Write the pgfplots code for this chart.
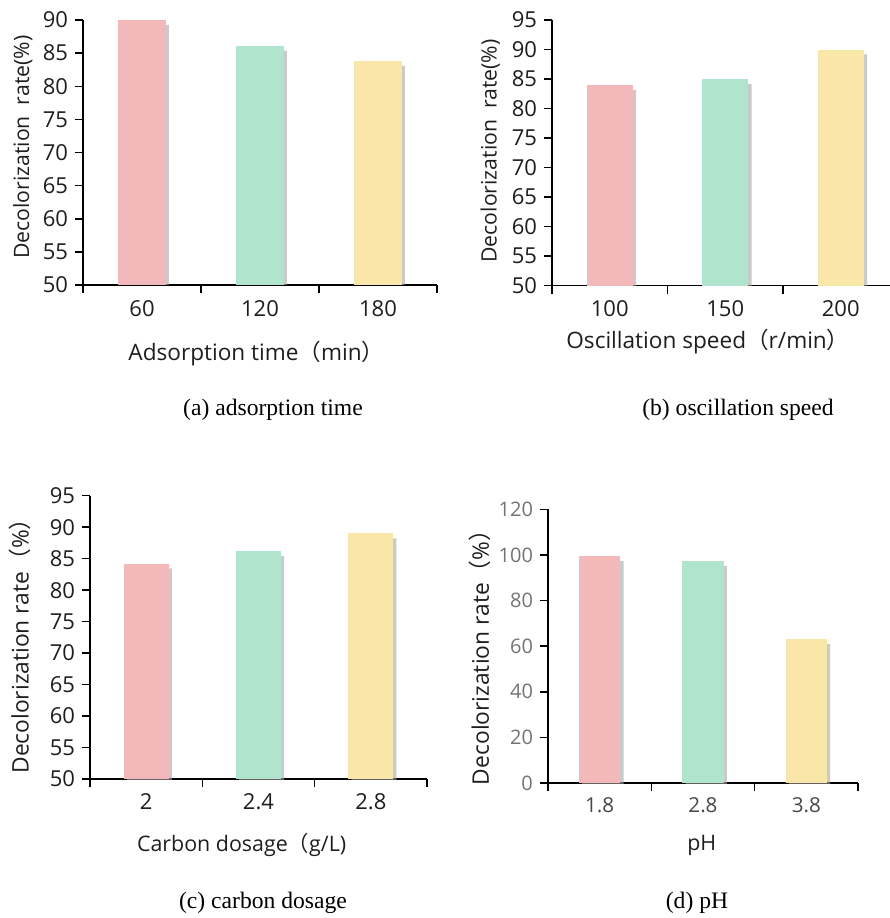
\documentclass[border=0pt]{standalone}
\usepackage{fontspec}
\setmainfont{Open Sans}
\newfontfamily\cjk{Noto Sans CJK SC}
\newfontfamily\capfont{Liberation Serif}
\usepackage{pgfplots}
\pgfplotsset{compat=1.18}

\definecolor{barpink}{RGB}{242,184,186}
\definecolor{bargreen}{RGB}{176,228,205}
\definecolor{baryellow}{RGB}{248,231,168}
\definecolor{txt}{RGB}{30,30,30}

\newcommand\fw[1]{{\cjk #1}}

\pgfplotsset{
  panel/.style={
    scale only axis, axis lines*=left,
    axis line style={line width=0.75pt, black},
    ybar, bar width=0.4, xmin=0.5, xmax=3.5,
    xtick={0.5,1.5,2.5,3.5}, x tick label as interval,
    tick align=outside, major tick length=4pt,
    tick style={line width=0.75pt, black},
    /pgf/number format/assume math mode=true,
    tick label style={font=\fontsize{11}{12}\selectfont, text=txt},
    ylabel style={font=\fontsize{10.6}{12}\selectfont, text=txt},
    xlabel style={font=\fontsize{11.3}{13}\selectfont, text=txt},
    every axis plot/.append style={bar shift=0pt, draw=none},
  },
  shadow/.style={fill=black!35, opacity=0.6, xshift=1.6pt, yshift=-2.4pt},
}

\begin{document}
\begin{tikzpicture}
\useasboundingbox (0,0) rectangle (445pt,459pt);

% (a) adsorption time
\begin{axis}[panel, at={(41.5pt,316.5pt)}, anchor=south west,
  width=177pt, height=132.5pt, ymin=50, ymax=90, ytick distance=5,
  xticklabels={60,120,180},
  xlabel={Adsorption time\fw{（}min\fw{）}},
  xlabel style={at={(axis description cs:0.49,0)}, anchor=center, yshift=-34.5pt},
  ylabel={Decolorization\ \ rate(\%)},
  ylabel style={at={(axis description cs:-0.17,0.52)}, anchor=center}]
\addplot[shadow] coordinates {(1,90.0)(2,86.1)(3,83.8)};
\addplot[fill=barpink] coordinates {(1,90.0)};
\addplot[fill=bargreen] coordinates {(2,86.1)};
\addplot[fill=baryellow] coordinates {(3,83.8)};
\end{axis}

% (b) oscillation speed
\begin{axis}[panel, at={(276pt,316.15pt)}, anchor=south west,
  width=173.25pt, height=132.85pt, ymin=50, ymax=95, ytick distance=5,
  xticklabels={100,150,200},
  xlabel={Oscillation speed\fw{（}r/min\fw{）}},
  xlabel style={at={(axis description cs:0.45,0)}, anchor=center, yshift=-28pt},
  ylabel={Decolorization\ \ rate(\%)},
  ylabel style={at={(axis description cs:-0.178,0.507)}, anchor=center}]
\addplot[shadow] coordinates {(1,84.0)(2,85.0)(3,90.0)};
\addplot[fill=barpink] coordinates {(1,84.0)};
\addplot[fill=bargreen] coordinates {(2,85.0)};
\addplot[fill=baryellow] coordinates {(3,90.0)};
\end{axis}

% (c) carbon dosage
\begin{axis}[panel, at={(45pt,69.5pt)}, anchor=south west,
  width=168.5pt, height=141.65pt, ymin=50, ymax=95, ytick distance=5,
  xticklabels={2,2.4,2.8},
  xlabel={Carbon dosage\fw{（}g/L)},
  xlabel style={at={(axis description cs:0.45,0)}, anchor=center, yshift=-33pt,
    font=\fontsize{10.7}{12}\selectfont},
  ylabel={Decolorization rate\fw{（}\%\fw{）}},
  ylabel style={at={(axis description cs:-0.208,0.489)}, anchor=center,
    font=\fontsize{11.4}{13}\selectfont}]
\addplot[shadow] coordinates {(1,84.2)(2,86.2)(3,89.0)};
\addplot[fill=barpink] coordinates {(1,84.2)};
\addplot[fill=bargreen] coordinates {(2,86.2)};
\addplot[fill=baryellow] coordinates {(3,89.0)};
\end{axis}

% (d) pH
\begin{axis}[panel, at={(274pt,67.5pt)}, anchor=south west,
  width=155pt, height=136.85pt, ymin=0, ymax=120, ytick distance=20,
  yticklabel style={font=\fontsize{10}{11}\selectfont, text=black!55},
  xticklabel style={font=\fontsize{10.3}{11}\selectfont, text=black!72},
  xticklabels={1.8,2.8,3.8},
  xlabel={pH},
  xlabel style={at={(axis description cs:0.496,0)}, anchor=center, yshift=-31pt,
    font=\fontsize{10.7}{12}\selectfont},
  ylabel={Decolorization rate\fw{（}\%\fw{）}},
  ylabel style={at={(axis description cs:-0.219,0.479)}, anchor=center,
    font=\fontsize{11.4}{13}\selectfont}]
\addplot[shadow] coordinates {(1,99.5)(2,97.3)(3,63.0)};
\addplot[fill=barpink] coordinates {(1,99.5)};
\addplot[fill=bargreen] coordinates {(2,97.3)};
\addplot[fill=baryellow] coordinates {(3,63.0)};
\end{axis}

% captions
\tikzset{captext/.style={font=\capfont\fontsize{11.8}{13}\selectfont}}
\node[captext] at (136.5pt,254pt) {(a) adsorption time};
\node[captext] at (369pt,254pt) {(b) oscillation speed};
\node[captext] at (131.5pt,7.5pt) {(c) carbon dosage};
\node[captext] at (348.5pt,7.5pt) {(d) pH};
\end{tikzpicture}
\end{document}
